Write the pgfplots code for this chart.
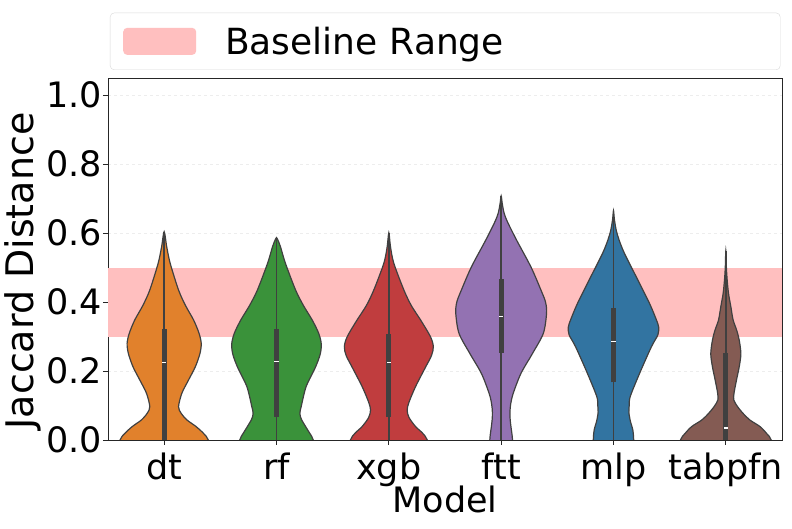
\documentclass[border=0pt]{standalone}
\usepackage{fontspec}
\setmainfont{DejaVu Sans}
\usepackage{pgfplots}
\pgfplotsset{compat=1.18}
\definecolor{cdt}{HTML}{E1812C}
\definecolor{crf}{HTML}{3A923A}
\definecolor{cxgb}{HTML}{C03D3E}
\definecolor{cftt}{HTML}{9372B2}
\definecolor{cmlp}{HTML}{3274A1}
\definecolor{ctab}{HTML}{845B53}
\definecolor{edgec}{HTML}{404040}
\definecolor{bandc}{HTML}{FFBFBF}
\newcommand{\bigfont}{\fontsize{35pt}{42pt}\selectfont}
\newcommand{\ylfont}{\fontsize{38pt}{44pt}\selectfont}
\pgfplotsset{
  violin/.style={draw=edgec, line width=1.2pt, smooth, tension=0.5, forget plot},
  vbox/.style={edgec, line width=4.7pt, forget plot},
  vwhisk/.style={edgec, line width=1.5pt, forget plot},
  vmed/.style={white, line width=1.3pt, forget plot},
}
\begin{document}
\begin{tikzpicture}
\useasboundingbox (-108pt,-89pt) rectangle (684pt,440pt);
\begin{axis}[
  at={(0pt,0pt)}, anchor=south west,
  scale only axis, width=674pt, height=362pt,
  xmin=-0.5, xmax=5.5, ymin=0, ymax=1.05,
  xtick={0,1,2,3,4,5}, xticklabels={dt,rf,xgb,ftt,mlp,tabpfn},
  ytick={0,0.2,0.4,0.6,0.8,1.0},
  /pgf/number format/fixed, /pgf/number format/fixed zerofill, /pgf/number format/precision=1,
  /pgf/number format/assume math mode=true,
  tick pos=left, tick align=outside, major tick length=5pt,
  tick style={black!85, line width=0.8pt},
  axis line style={black!85, line width=0.8pt},
  ymajorgrids, grid style={black!7, dashed, line width=0.8pt},
  every tick label/.append style={font=\bigfont, inner sep=0pt},
  xticklabel style={anchor=north, yshift=-8pt},
  yticklabel style={anchor=east, xshift=-1pt},
  xlabel={Model}, ylabel={Jaccard Distance},
  every axis x label/.style={at={(axis description cs:0.5,0)}, anchor=north, yshift=-46pt, inner sep=0pt, font=\bigfont},
  every axis y label/.style={at={(axis description cs:-0.111,0.467)}, rotate=90, anchor=base, inner sep=0pt, font=\ylfont},
  legend cell align=left,
  legend style={at={(axis description cs:0,1)}, anchor=south west, xshift=2pt, yshift=8pt,
    draw=black!15, rounded corners=4pt, inner xsep=13pt, inner ysep=12pt, font=\fontsize{36pt}{42pt}\selectfont,
    nodes={inner sep=2pt, text width=540pt, align=left}},
]
\addplot[fill=bandc, draw=none, area legend,
  legend image code/.code={\fill[bandc] (0pt,-13.5pt) rectangle (73pt,13.5pt); \path (100pt,0pt);}]
  coordinates {(-0.5,0.3)(5.5,0.3)(5.5,0.5)(-0.5,0.5)};
\addlegendentry{Baseline Range}

% dt
\addplot[violin, fill=cdt] coordinates {(0.400,-0.04)(0.393,0)(0.348,0.02)(0.280,0.04)(0.203,0.058)(0.150,0.078)(0.128,0.097)(0.158,0.136)(0.217,0.174)(0.277,0.212)(0.318,0.25)(0.330,0.28)(0.310,0.31)(0.262,0.348)(0.190,0.39)(0.128,0.435)(0.054,0.512)(0.023,0.56)(0,0.604)(-0.023,0.56)(-0.054,0.512)(-0.128,0.435)(-0.190,0.39)(-0.262,0.348)(-0.310,0.31)(-0.330,0.28)(-0.318,0.25)(-0.277,0.212)(-0.217,0.174)(-0.158,0.136)(-0.128,0.097)(-0.150,0.078)(-0.203,0.058)(-0.280,0.04)(-0.348,0.02)(-0.393,0)(-0.400,-0.04)};
\addplot[vwhisk] coordinates {(0,0)(0,0.604)};
\addplot[vbox] coordinates {(0,0)(0,0.322)};
\addplot[vmed] coordinates {(-0.018,0.224)(0.018,0.224)};

% rf
\addplot[violin, fill=crf] coordinates {(1.330,-0.04)(1.327,0)(1.295,0.02)(1.259,0.039)(1.222,0.06)(1.208,0.077)(1.222,0.1)(1.264,0.155)(1.348,0.212)(1.390,0.25)(1.398,0.28)(1.375,0.31)(1.318,0.348)(1.240,0.39)(1.170,0.435)(1.080,0.512)(1.036,0.56)(1.015,0.578)(1,0.587)(0.985,0.578)(0.964,0.56)(0.920,0.512)(0.830,0.435)(0.760,0.39)(0.682,0.348)(0.625,0.31)(0.602,0.28)(0.610,0.25)(0.652,0.212)(0.736,0.155)(0.778,0.1)(0.792,0.077)(0.778,0.06)(0.741,0.039)(0.705,0.02)(0.673,0)(0.670,-0.04)};
\addplot[vwhisk] coordinates {(1,0)(1,0.587)};
\addplot[vbox] coordinates {(1,0.068)(1,0.322)};
\addplot[vmed] coordinates {(0.982,0.227)(1.018,0.227)};

% xgb
\addplot[violin, fill=cxgb] coordinates {(2.347,-0.04)(2.342,0)(2.300,0.02)(2.238,0.039)(2.180,0.065)(2.163,0.087)(2.180,0.11)(2.238,0.155)(2.328,0.212)(2.380,0.245)(2.396,0.271)(2.370,0.30)(2.283,0.348)(2.200,0.39)(2.134,0.435)(2.045,0.512)(2.015,0.56)(2,0.601)(1.985,0.56)(1.955,0.512)(1.866,0.435)(1.800,0.39)(1.717,0.348)(1.630,0.30)(1.604,0.271)(1.620,0.245)(1.672,0.212)(1.762,0.155)(1.820,0.11)(1.837,0.087)(1.820,0.065)(1.762,0.039)(1.700,0.02)(1.658,0)(1.653,-0.04)};
\addplot[vwhisk] coordinates {(2,0)(2,0.601)};
\addplot[vbox] coordinates {(2,0.066)(2,0.307)};
\addplot[vmed] coordinates {(1.982,0.224)(2.018,0.224)};

% ftt
\addplot[violin, fill=cftt] coordinates {(3.101,-0.04)(3.101,0)(3.095,0.02)(3.087,0.039)(3.080,0.06)(3.078,0.08)(3.085,0.105)(3.107,0.135)(3.176,0.193)(3.279,0.251)(3.375,0.309)(3.404,0.367)(3.395,0.40)(3.354,0.435)(3.265,0.502)(3.137,0.58)(3.060,0.63)(3.027,0.657)(3.010,0.685)(3,0.708)(2.990,0.685)(2.973,0.657)(2.940,0.63)(2.863,0.58)(2.735,0.502)(2.646,0.435)(2.605,0.40)(2.596,0.367)(2.625,0.309)(2.721,0.251)(2.824,0.193)(2.893,0.135)(2.915,0.105)(2.922,0.08)(2.920,0.06)(2.913,0.039)(2.905,0.02)(2.899,0)(2.899,-0.04)};
\addplot[vwhisk] coordinates {(3,0)(3,0.708)};
\addplot[vbox] coordinates {(3,0.253)(3,0.466)};
\addplot[vmed] coordinates {(2.982,0.358)(3.018,0.358)};

% mlp
\addplot[violin, fill=cmlp] coordinates {(4.180,-0.04)(4.180,0)(4.172,0.029)(4.150,0.055)(4.137,0.08)(4.140,0.10)(4.149,0.126)(4.232,0.193)(4.337,0.27)(4.395,0.305)(4.402,0.328)(4.380,0.35)(4.321,0.396)(4.217,0.464)(4.098,0.541)(4.050,0.58)(4.024,0.609)(4.008,0.64)(4,0.665)(3.992,0.64)(3.976,0.609)(3.950,0.58)(3.902,0.541)(3.783,0.464)(3.679,0.396)(3.620,0.35)(3.598,0.328)(3.605,0.305)(3.663,0.27)(3.768,0.193)(3.851,0.126)(3.860,0.10)(3.863,0.08)(3.850,0.055)(3.828,0.029)(3.820,0)(3.820,-0.04)};
\addplot[vwhisk] coordinates {(4,0)(4,0.665)};
\addplot[vbox] coordinates {(4,0.167)(4,0.382)};
\addplot[vmed] coordinates {(3.982,0.286)(4.018,0.286)};

% tabpfn
\addplot[violin, fill=ctab] coordinates {(5.404,-0.04)(5.404,0)(5.363,0.019)(5.304,0.039)(5.214,0.058)(5.154,0.077)(5.104,0.097)(5.071,0.116)(5.073,0.136)(5.095,0.174)(5.119,0.212)(5.134,0.25)(5.119,0.29)(5.096,0.319)(5.065,0.348)(5.045,0.386)(5.024,0.425)(5.012,0.464)(5.005,0.5)(5,0.549)(4.995,0.5)(4.988,0.464)(4.976,0.425)(4.955,0.386)(4.935,0.348)(4.904,0.319)(4.881,0.29)(4.866,0.25)(4.881,0.212)(4.905,0.174)(4.927,0.136)(4.929,0.116)(4.896,0.097)(4.846,0.077)(4.786,0.058)(4.696,0.039)(4.637,0.019)(4.596,0)(4.596,-0.04)};
\addplot[vwhisk] coordinates {(5,0)(5,0.549)};
\addplot[vbox] coordinates {(5,0)(5,0.253)};
\addplot[vmed] coordinates {(4.982,0.035)(5.018,0.035)};
\end{axis}
\end{tikzpicture}
\end{document}
